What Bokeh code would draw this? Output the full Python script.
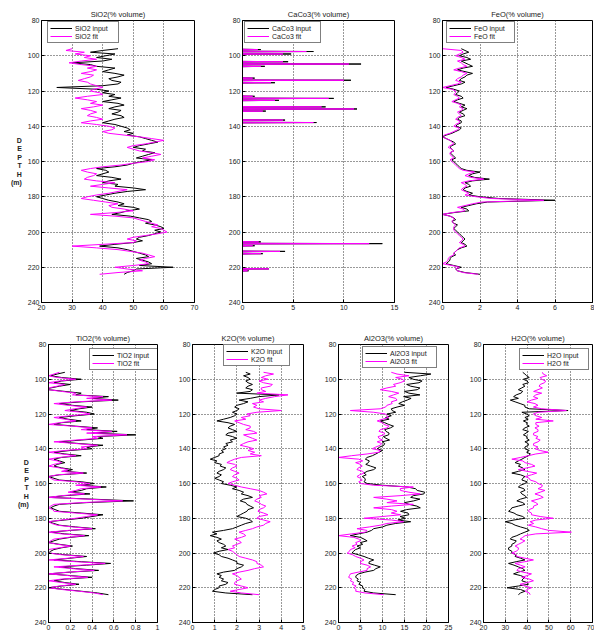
from bokeh.plotting import figure
from bokeh.layouts import column, row
from bokeh.models import Range1d, FixedTicker, CustomJSTickFormatter, Legend, LegendItem
from bokeh.embed import file_html
from bokeh.resources import INLINE

# ---------------- data (depth in m, values in % volume) ----------------
depth = [96, 97, 98, 99, 100, 101, 102, 103, 104, 105,
         106, 107, 108, 109, 110, 111, 112, 113, 114, 115,
         116, 117, 118, 119, 120, 121, 122, 123, 124, 125,
         126, 127, 128, 129, 130, 131, 132, 133, 134, 135,
         136, 137, 138, 139, 140, 141, 142, 143, 144, 145,
         146, 147, 148, 149, 150, 151, 152, 153, 154, 155,
         156, 157, 158, 159, 160, 161, 162, 163, 164, 165,
         166, 167, 168, 169, 170, 171, 172, 173, 174, 175,
         176, 177, 178, 179, 180, 181, 182, 183, 184, 185,
         186, 187, 188, 189, 190, 191, 192, 193, 194, 195,
         196, 197, 198, 199, 200, 201, 202, 203, 204, 205,
         206, 207, 208, 209, 210, 211, 212, 213, 214, 215,
         216, 217, 218, 219, 220, 221, 222, 223, 224]

depth_ticks = [80, 100, 120, 140, 160, 180, 200, 220, 240]

sio2_input = [45, 40, 36, 44, 41, 38, 43, 40, 30, 36,
              38, 44, 42, 40, 44, 47, 45, 42, 43, 46,
              45, 40, 25, 38, 42, 40, 44, 42, 46, 43,
              40, 45, 47, 44, 42, 46, 45, 43, 46, 47,
              44, 42, 40, 44, 46, 48, 49, 47, 50, 48,
              52, 54, 56, 58, 55, 52, 50, 54, 53, 57,
              55, 53, 51, 56, 53, 50, 48, 44, 38, 41,
              42, 40, 38, 43, 46, 42, 40, 45, 44, 50,
              54, 48, 44, 41, 38, 40, 42, 45, 47, 45,
              50, 52, 48, 46, 43, 49, 52, 55, 56, 54,
              57, 59, 60, 57, 59, 57, 55, 52, 51, 53,
              50, 44, 39, 45, 48, 50, 52, 54, 55, 51,
              53, 55, 56, 52, 63, 51, 50, 48, 47]
sio2_fit = [30, 28, 34, 31, 36, 34, 38, 33, 29, 33,
            38, 35, 38, 36, 33, 37, 36, 34, 32, 35,
            36, 38, 40, 37, 36, 39, 40, 35, 31, 35,
            38, 36, 40, 37, 33, 36, 38, 36, 35, 38,
            40, 36, 33, 38, 42, 44, 43, 40, 42, 47,
            52, 56, 60, 57, 54, 50, 48, 50, 52, 56,
            59, 56, 53, 57, 55, 50, 46, 40, 36, 33,
            35, 38, 37, 35, 34, 38, 44, 40, 36, 42,
            48, 45, 42, 38, 35, 33, 37, 41, 45, 42,
            43, 47, 50, 44, 36, 44, 50, 52, 54, 56,
            58, 56, 59, 60, 61, 58, 54, 50, 48, 51,
            50, 40, 30, 38, 45, 49, 53, 55, 57, 54,
            52, 54, 55, 50, 44, 48, 53, 45, 39]

caco3_depth = [96,
               96.3, 96.5, 96.7,
               97.4, 97.6, 97.8,
               98.8, 99.0, 99.2,
               103.2, 103.4, 103.6,
               104.5, 104.7, 104.9,
               105.8, 106.0, 106.2,
               112.5, 112.7, 112.9,
               113.7, 113.9, 114.1,
               115.1, 115.3, 115.5,
               122.8, 123.0, 123.2,
               124.0, 124.2, 124.4,
               125.1, 125.3, 125.5,
               128.8, 129.0, 129.2,
               130.0, 130.2, 130.4,
               131.2, 131.4, 131.6,
               136.3, 136.5, 136.7,
               137.7, 137.9, 138.1,
               205.4, 205.6, 205.8,
               206.4, 206.6, 206.8,
               207.6, 207.8, 208.0,
               210.8, 211.0, 211.2,
               212.1, 212.3, 212.5,
               220.7, 220.9, 221.1,
               221.8, 222.0, 222.2,
               224]
caco3_input = [0,
               0, 1.8, 0,
               0, 7.0, 0,
               0, 4.8, 0,
               0, 4.5, 0,
               0, 11.7, 0,
               0, 2.2, 0,
               0, 1.2, 0,
               0, 10.7, 0,
               0, 3.2, 0,
               0, 1.2, 0,
               0, 9.0, 0,
               0, 3.6, 0,
               0, 8.2, 0,
               0, 11.3, 0,
               0, 2.3, 0,
               0, 4.2, 0,
               0, 7.3, 0,
               0, 1.8, 0,
               0, 13.8, 0,
               0, 1.2, 0,
               0, 4.2, 0,
               0, 2.0, 0,
               0, 2.6, 0,
               0, 0.6, 0,
               0]
caco3_fit = [0,
             0, 1.5, 0,
             0, 6.3, 0,
             0, 4.0, 0,
             0, 4.0, 0,
             0, 10.5, 0,
             0, 1.8, 0,
             0, 1.0, 0,
             0, 10.0, 0,
             0, 2.8, 0,
             0, 1.0, 0,
             0, 8.5, 0,
             0, 3.2, 0,
             0, 7.8, 0,
             0, 11.0, 0,
             0, 2.0, 0,
             0, 4.0, 0,
             0, 7.0, 0,
             0, 1.6, 0,
             0, 12.5, 0,
             0, 1.0, 0,
             0, 3.7, 0,
             0, 1.8, 0,
             0, 2.6, 0,
             0, 0.5, 0,
             0]

feo_input = [1.0, 1.2, 1.4, 1.1, 0.9, 1.3, 1.5, 1.0, 1.2, 1.4,
             1.6, 1.1, 0.8, 1.2, 1.6, 1.3, 1.2, 1.0, 0.9, 1.2,
             1.0, 0.6, 0.2, 0.6, 0.9, 0.8, 0.7, 1.0, 1.1, 0.8,
             0.6, 0.9, 1.2, 1.0, 1.3, 1.1, 0.9, 1.1, 1.2, 0.9,
             0.8, 1.0, 1.0, 0.8, 0.7, 1.0, 0.9, 0.7, 0.5, 0.2,
             0.0, 0.2, 0.4, 0.6, 0.7, 0.5, 0.4, 0.5, 0.6, 0.4,
             0.5, 0.6, 0.7, 0.5, 0.6, 0.7, 0.8, 0.9, 1.0, 1.3,
             2.0, 1.6, 1.4, 1.7, 2.5, 1.6, 1.2, 1.4, 1.5, 1.2,
             1.1, 1.3, 1.6, 1.4, 2.0, 3.0, 6.0, 2.4, 1.8, 1.4,
             1.0, 1.3, 1.4, 0.6, 0.0, 0.4, 0.6, 0.7, 0.5, 0.6,
             0.8, 0.7, 0.6, 0.7, 0.8, 0.9, 1.0, 1.1, 1.2, 1.1,
             1.0, 1.2, 1.3, 1.0, 0.8, 0.7, 0.6, 0.7, 0.5, 0.4,
             0.4, 0.3, 0.2, 0.6, 1.0, 0.7, 0.8, 1.2, 2.0]
feo_fit = [0.0, 1.0, 1.1, 0.9, 0.7, 1.0, 1.2, 0.8, 1.0, 1.1,
           1.3, 0.9, 0.6, 1.0, 1.3, 1.1, 1.0, 0.8, 0.7, 1.0,
           0.8, 0.4, 0.0, 0.5, 0.7, 0.7, 0.6, 0.8, 0.9, 0.7,
           0.5, 0.8, 1.0, 0.9, 1.1, 1.0, 0.8, 0.9, 1.0, 0.8,
           0.7, 0.9, 0.9, 0.7, 0.6, 0.9, 0.8, 0.6, 0.4, 0.1,
           0.0, 0.2, 0.4, 0.5, 0.6, 0.4, 0.3, 0.5, 0.6, 0.4,
           0.4, 0.5, 0.6, 0.4, 0.5, 0.6, 0.7, 0.8, 0.9, 1.1,
           1.7, 1.4, 1.2, 1.5, 2.2, 1.4, 1.0, 1.2, 1.3, 1.1,
           1.0, 1.2, 1.4, 1.2, 1.8, 2.6, 5.4, 2.1, 1.6, 1.2,
           0.8, 1.1, 1.2, 0.5, 0.0, 0.4, 0.6, 0.6, 0.5, 0.6,
           0.7, 0.6, 0.6, 0.6, 0.7, 0.8, 0.9, 1.0, 1.1, 1.0,
           0.9, 1.1, 1.2, 0.9, 0.8, 0.7, 0.6, 0.6, 0.4, 0.3,
           0.3, 0.2, 0.0, 0.5, 0.9, 0.7, 0.8, 1.1, 1.9]

tio2_input = [0.15, 0.08, 0.02, 0.12, 0.30, 0.12, 0.05, 0.20, 0.10, 0.02,
              0.00, 0.15, 0.30, 0.25, 0.55, 0.40, 0.64, 0.30, 0.10, 0.22,
              0.40, 0.28, 0.20, 0.35, 0.42, 0.25, 0.10, 0.18, 0.30, 0.12,
              0.05, 0.25, 0.45, 0.35, 0.63, 0.40, 0.80, 0.45, 0.50, 0.30,
              0.10, 0.28, 0.50, 0.35, 0.40, 0.20, 0.05, 0.15, 0.30, 0.12,
              0.05, 0.10, 0.15, 0.08, 0.05, 0.12, 0.22, 0.15, 0.35, 0.10,
              0.00, 0.05, 0.10, 0.30, 0.42, 0.30, 0.53, 0.35, 0.30, 0.20,
              0.38, 0.15, 0.00, 0.40, 0.78, 0.35, 0.10, 0.05, 0.02, 0.06,
              0.10, 0.30, 0.50, 0.40, 0.30, 0.15, 0.00, 0.05, 0.10, 0.25,
              0.43, 0.20, 0.02, 0.15, 0.37, 0.20, 0.10, 0.05, 0.00, 0.10,
              0.22, 0.12, 0.05, 0.02, 0.00, 0.15, 0.35, 0.20, 0.05, 0.30,
              0.57, 0.35, 0.10, 0.25, 0.46, 0.20, 0.00, 0.20, 0.40, 0.15,
              0.05, 0.15, 0.28, 0.12, 0.00, 0.15, 0.30, 0.45, 0.55]
tio2_fit = [0.10, 0.05, 0.00, 0.08, 0.25, 0.10, 0.00, 0.15, 0.08, 0.00,
            0.00, 0.12, 0.25, 0.22, 0.50, 0.35, 0.58, 0.25, 0.05, 0.18,
            0.35, 0.24, 0.15, 0.30, 0.38, 0.20, 0.05, 0.15, 0.25, 0.10,
            0.00, 0.22, 0.40, 0.30, 0.58, 0.35, 0.72, 0.40, 0.45, 0.25,
            0.05, 0.25, 0.45, 0.30, 0.35, 0.15, 0.00, 0.12, 0.25, 0.10,
            0.00, 0.08, 0.12, 0.05, 0.00, 0.10, 0.18, 0.12, 0.32, 0.08,
            0.00, 0.02, 0.05, 0.25, 0.38, 0.25, 0.48, 0.30, 0.25, 0.18,
            0.33, 0.12, 0.00, 0.35, 0.68, 0.30, 0.05, 0.02, 0.00, 0.04,
            0.05, 0.25, 0.45, 0.35, 0.25, 0.12, 0.00, 0.03, 0.08, 0.22,
            0.40, 0.18, 0.00, 0.12, 0.33, 0.18, 0.05, 0.02, 0.00, 0.08,
            0.20, 0.10, 0.00, 0.00, 0.00, 0.12, 0.32, 0.18, 0.00, 0.25,
            0.52, 0.30, 0.05, 0.22, 0.42, 0.18, 0.00, 0.18, 0.36, 0.12,
            0.00, 0.12, 0.25, 0.10, 0.00, 0.12, 0.28, 0.42, 0.50]

k2o_input = [2.4, 2.6, 2.3, 2.5, 2.6, 2.4, 2.5, 2.7, 2.5, 2.4,
             2.7, 2.6, 2.0, 3.9, 3.0, 2.6, 2.1, 2.5, 2.3, 2.0,
             1.9, 2.1, 2.0, 1.8, 2.0, 1.9, 1.7, 1.4, 1.1, 1.6,
             1.9, 1.7, 1.6, 1.8, 2.0, 1.6, 1.5, 1.8, 2.0, 1.7,
             1.8, 1.5, 1.6, 1.4, 1.5, 1.3, 1.4, 1.2, 1.2, 1.0,
             0.8, 1.1, 1.0, 1.3, 1.25, 1.5, 1.4, 1.2, 1.1, 1.3,
             1.2, 1.0, 1.2, 1.4, 1.3, 1.7, 2.0, 1.8, 2.1, 2.3,
             2.2, 2.5, 2.7, 2.3, 2.15, 2.4, 2.45, 2.6, 2.75, 2.5,
             2.45, 2.3, 2.15, 2.0, 2.4, 2.6, 2.7, 2.4, 2.2, 2.0,
             1.8, 1.4, 0.9, 1.1, 0.8, 1.1, 1.3, 1.1, 1.2, 1.4,
             1.5, 1.3, 1.6, 1.2, 0.95, 1.2, 1.3, 1.6, 1.8, 2.0,
             2.0, 2.3, 2.2, 2.0, 1.9, 1.4, 1.1, 1.3, 1.2, 1.4,
             1.3, 1.6, 1.5, 1.2, 1.2, 1.0, 0.9, 1.5, 2.7]
k2o_fit = [3.2, 3.65, 3.3, 3.1, 3.4, 3.0, 3.2, 3.6, 3.5, 3.1,
           3.1, 3.3, 2.9, 4.3, 3.7, 3.3, 3.0, 3.2, 2.7, 2.9,
           2.75, 3.0, 4.0, 2.9, 2.45, 2.6, 2.2, 2.4, 1.9, 2.1,
           2.3, 2.6, 2.6, 2.4, 2.75, 2.9, 2.3, 2.5, 2.7, 2.9,
           2.5, 2.3, 2.15, 2.5, 2.75, 2.5, 2.8, 2.6, 3.1, 2.2,
           1.9, 1.7, 1.55, 1.9, 2.0, 1.8, 1.7, 1.9, 2.1, 1.9,
           1.8, 2.0, 2.1, 1.8, 1.6, 1.9, 2.2, 2.6, 3.0, 3.2,
           3.35, 3.0, 3.1, 2.9, 2.8, 3.0, 3.1, 3.3, 3.2, 3.0,
           2.95, 3.2, 3.4, 3.0, 2.9, 3.2, 3.5, 3.3, 3.2, 2.9,
           2.7, 2.4, 2.1, 2.3, 2.4, 2.2, 1.9, 2.1, 2.2, 2.0,
           1.8, 1.9, 1.6, 1.8, 1.9, 2.0, 2.1, 2.4, 2.7, 2.9,
           2.9, 3.1, 3.2, 2.8, 2.5, 2.1, 1.8, 2.0, 2.1, 2.2,
           2.0, 1.9, 1.9, 2.2, 2.5, 2.1, 1.7, 2.2, 3.0]

al2o3_input = [15, 21, 18.6, 16, 17, 19, 18.3, 15.5, 16.4, 18.5,
               17.9, 15, 16, 18.5, 14.8, 16.5, 15.6, 14.5, 13.7, 15,
               13.3, 12, 12.2, 13, 11, 12, 10.7, 11.5, 9.5, 10.5,
               11.4, 12.5, 11.8, 10.5, 10.8, 11.5, 11.4, 10.2, 10.8, 11.6,
               9.9, 10.5, 10.3, 9.4, 8.8, 10, 9.2, 8.5, 7.7, 6.5,
               6.1, 7.0, 6.8, 6.2, 7.3, 8.5, 8.0, 6.5, 5.8, 6.3,
               5.4, 6.0, 6.1, 5.8, 6.5, 10.0, 15.6, 17.5, 17.9, 19.6,
               19.4, 17.0, 16.4, 18.5, 17.1, 15.0, 16.0, 17.8, 18.6, 15.5,
               14.1, 15.8, 16.0, 14.0, 15.2, 13.5, 16.4, 13.0, 11.0, 10.0,
               8.0, 7.5, 6.5, 4.5, 2.7, 5.0, 5.8, 6.5, 5.0, 5.5,
               4.2, 5.0, 3.9, 3.4, 3.1, 4.5, 5.8, 6.8, 8.0, 7.0,
               6.9, 8.2, 9.5, 8.5, 8.0, 6.0, 4.6, 4.0, 3.9, 4.5,
               4.2, 5.0, 4.6, 5.5, 5.4, 6.0, 5.8, 8.0, 13.0]
al2o3_fit = [12, 13.3, 16, 13, 14.5, 15, 14, 12.5, 13, 11,
             9.5, 12, 13.7, 12.5, 11.4, 13, 13.3, 12, 12.2, 11,
             10.7, 9.5, 2.7, 8, 10.7, 11, 11.4, 10, 8.8, 10,
             10.3, 11.5, 11, 9.5, 9.2, 10.5, 10.3, 9, 9.2, 10,
             8.8, 9.8, 9.5, 8.5, 7.7, 9.5, 9.2, 6.5, 3.0, 0.0,
             4.6, 5.5, 3.9, 5.0, 5.4, 4.5, 4.2, 5.5, 5.8, 4.8,
             4.2, 5.0, 5.4, 4.6, 5.0, 8.0, 17.0, 14.0, 14.1, 16.0,
             18.6, 14.0, 8.0, 11.0, 13.3, 11.0, 17.0, 12.0, 8.0, 12.0,
             13.3, 12.0, 14.1, 10.0, 5.8, 12.0, 14.8, 11.0, 9.5, 7.0,
             4.2, 6.5, 6.1, 3.0, 0.0, 3.5, 4.6, 5.0, 3.9, 4.2,
             3.1, 3.8, 2.7, 2.5, 2.0, 3.2, 3.9, 5.0, 5.8, 5.0,
             5.0, 6.5, 7.3, 6.5, 6.5, 4.5, 2.7, 2.5, 2.3, 3.0,
             2.7, 3.5, 3.1, 4.0, 3.5, 4.0, 3.9, 6.0, 10.3]

h2o_input = [38, 39, 39.8, 41, 38.3, 40, 40.6, 38, 39, 37.5,
             36, 38, 37.2, 35, 33.8, 36, 32.3, 34.5, 36.8, 39,
             39, 41, 58.8, 37.6, 39.8, 41, 39, 40.5, 38.3, 40,
             39.8, 41, 39, 38, 40.6, 39.5, 38.3, 40, 39.8, 41,
             39, 40.5, 40.6, 39, 39, 41, 39.8, 41.5, 40.6, 39,
             37.6, 36, 34.5, 37, 36, 38, 39, 36, 33, 37,
             39, 38, 37.6, 40, 39, 37, 36, 38.5, 39, 37,
             37.6, 39, 39.8, 37, 35.3, 38, 39, 36, 33, 32.5,
             31.5, 34, 35.3, 38, 39, 34, 30, 33, 34.5, 37,
             39.8, 41, 39, 37, 35.3, 33, 32.3, 35, 34.5, 33,
             33, 31.5, 31.5, 33, 33, 35, 34.5, 37, 39, 35,
             31.5, 34, 36, 38, 39, 36, 33.8, 37, 39, 38,
             37.6, 40, 40.6, 36, 30.8, 37, 39, 37, 36]
h2o_fit = [47, 47.4, 49, 46, 46.7, 48.5, 48, 46, 45.5, 47,
           45, 43, 46.7, 44, 42.9, 45, 42, 40, 43.6, 45,
           42.9, 46.7, 58, 45, 42.9, 44, 46.7, 44, 52, 44,
           44, 45.5, 43.6, 45, 45, 43, 42.9, 45, 44, 46,
           45, 43, 42.9, 45, 43.6, 46, 49.7, 44, 40.6, 37,
           33, 38, 39.1, 42, 43.6, 40, 36, 40, 44.4, 42,
           39.1, 41, 41.4, 44, 45, 47, 46.7, 45, 48.2, 46,
           43.6, 46, 47.4, 45, 42, 44, 45, 43, 42.9, 41,
           40.6, 42, 42, 46, 52, 44, 41.4, 43, 40.6, 44,
           46.7, 50, 60.3, 44, 39.1, 38, 36.8, 39, 37.6, 36,
           34.5, 36, 36, 35, 33, 35, 35.3, 39, 42.9, 39,
           34.5, 37, 39.1, 36, 35.3, 38, 42, 40, 37.6, 41,
           42.9, 40, 36.8, 39, 42, 40, 39.1, 41, 41.4]

FONT = "Liberation Sans"
MAGENTA = "#ff00ff"
LEG_H = 21


def make_panel(name, xr, xticks, d_in, v_in, d_fit, v_fit, W, H, left, right,
               top, bottom, leg_x, leg_gap, leg_w, depth_label=False, decimal=False):
    p = figure(width=W, height=H, x_range=Range1d(*xr), y_range=Range1d(240, 80),
               output_backend="svg", toolbar_location=None,
               min_border_left=left, min_border_right=right,
               min_border_top=top, min_border_bottom=bottom,
               title=name + "(% volume)")
    fh = H - top - bottom
    p.title.align = "center"
    p.title.text_font_size = "7.5px"
    p.title.text_font_style = "normal"
    p.title.text_font = FONT
    p.title.text_color = "#222222"
    p.title.standoff = 4
    p.outline_line_color = "black"
    p.outline_line_width = 1
    p.background_fill_color = "white"
    p.border_fill_color = "white"

    p.xaxis.ticker = FixedTicker(ticks=xticks)
    p.yaxis.ticker = FixedTicker(ticks=depth_ticks)
    if decimal:
        p.xaxis.formatter = CustomJSTickFormatter(
            code="return String(Math.round(tick*10)/10);")
    for ax in (p.xaxis, p.yaxis):
        ax.major_label_text_font = FONT
        ax.major_label_text_font_size = "7px"
        ax.major_label_text_color = "#222222"
        ax.major_tick_in = 3
        ax.major_tick_out = 0
        ax.minor_tick_line_color = None
        ax.axis_line_color = "black"
        ax.major_tick_line_color = "black"
        ax.major_label_standoff = 2
    for g in (p.xgrid, p.ygrid):
        g.grid_line_color = "#333333"
        g.grid_line_dash = "1 2"
        g.grid_line_width = 1
    p.xgrid.ticker = FixedTicker(ticks=xticks)
    p.ygrid.ticker = FixedTicker(ticks=depth_ticks)

    if depth_label:
        p.yaxis.axis_label = "D\nE\nP\nT\nH\n(m)"
        p.yaxis.axis_label_orientation = "horizontal"
        p.yaxis.axis_label_text_font = FONT
        p.yaxis.axis_label_text_font_size = "7px"
        p.yaxis.axis_label_text_font_style = "bold"
        p.yaxis.axis_label_text_color = "#222222"
        p.yaxis.axis_label_standoff = 3

    r1 = p.line(v_in, d_in, line_color="black", line_width=1)
    r2 = p.line(v_fit, d_fit, line_color=MAGENTA, line_width=1)

    glyph_w, pad, stand = 22, 2, 3
    legend = Legend(items=[LegendItem(label=name + " input", renderers=[r1]),
                           LegendItem(label=name + " fit", renderers=[r2])],
                    location=(leg_x, fh - leg_gap - LEG_H))
    legend.label_text_font = FONT
    legend.label_text_font_size = "7px"
    legend.label_text_color = "#222222"
    legend.label_height = 8
    legend.label_width = leg_w - glyph_w - 2 * pad - stand
    legend.label_standoff = stand
    legend.glyph_width = glyph_w
    legend.glyph_height = 8
    legend.spacing = 0
    legend.padding = pad
    legend.margin = 0
    legend.border_line_color = "black"
    legend.border_line_width = 1
    legend.background_fill_alpha = 1
    p.add_layout(legend)
    return p


# top row geometry
TH, TT, TB = 316, 20, 14
# bottom row geometry
BH, BT, BB = 318, 28, 12

p1 = make_panel("SiO2", (20, 70), [20, 30, 40, 50, 60, 70], depth, sio2_input,
                depth, sio2_fit, 218, TH, 41, 24, TT, TB, 6, 2, 70,
                depth_label=True)
p2 = make_panel("CaCo3", (0, 15), [0, 5, 10, 15], caco3_depth, caco3_input,
                caco3_depth, caco3_fit, 200, TH, 24, 24, TT, TB, 2, 2, 75)
p3 = make_panel("FeO", (0, 8), [0, 2, 4, 6, 8], depth, feo_input,
                depth, feo_fit, 176, TH, 24, 2, TT, TB, 4, 2, 67)

p4 = make_panel("TiO2", (0, 1), [0, 0.2, 0.4, 0.6, 0.8, 1], depth, tio2_input,
                depth, tio2_fit, 168, BH, 48, 11, BT, BB, 109 - 68, 5, 68,
                depth_label=True, decimal=True)
p5 = make_panel("K2O", (0, 5), [0, 1, 2, 3, 4, 5], depth, k2o_input,
                depth, k2o_fit, 146, BH, 24, 11, BT, BB, 111 - 15 - 65, 1, 65)
p6 = make_panel("Al2O3", (0, 25), [0, 5, 10, 15, 20, 25], depth, al2o3_input,
                depth, al2o3_fit, 145, BH, 24, 11, BT, BB, 110 - 13 - 73, 3, 73)
p7 = make_panel("H2O", (20, 70), [20, 30, 40, 50, 60, 70], depth, h2o_input,
                depth, h2o_fit, 135, BH, 24, 2, BT, BB, 109 - 5 - 68, 5, 68)

layout = column(row(p1, p2, p3), row(p4, p5, p6, p7))

open("out.html", "w").write(file_html(layout, INLINE))
